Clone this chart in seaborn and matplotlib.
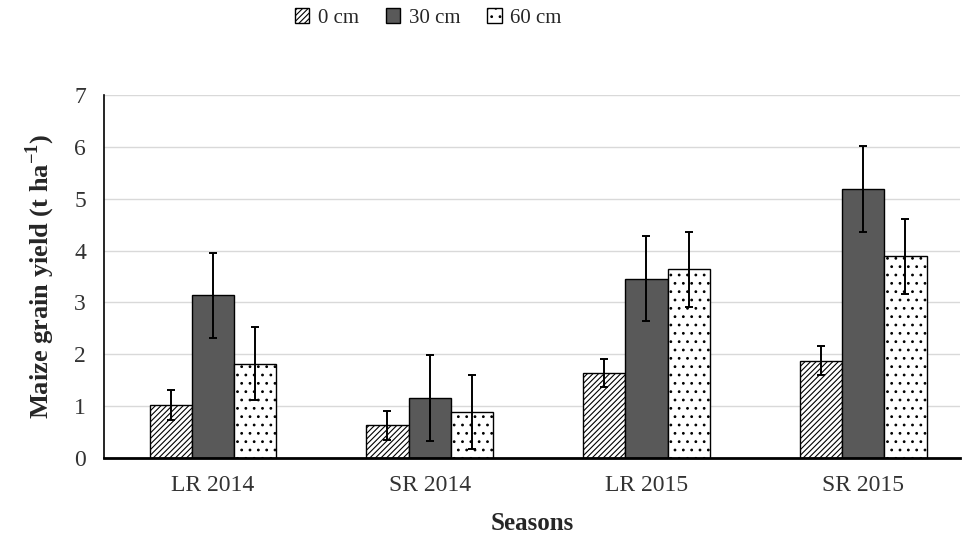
import matplotlib
matplotlib.use("Agg")
import matplotlib.pyplot as plt
import seaborn as sns
import pandas as pd
from matplotlib.patches import Patch

seasons = ["LR 2014", "SR 2014", "LR 2015", "SR 2015"]
depths = ["0 cm", "30 cm", "60 cm"]
yield_0cm = [1.02, 0.63, 1.63, 1.88]
yield_30cm = [3.14, 1.16, 3.46, 5.18]
yield_60cm = [1.82, 0.89, 3.64, 3.89]
err_0cm = [0.29, 0.28, 0.27, 0.28]
err_30cm = [0.82, 0.83, 0.82, 0.83]
err_60cm = [0.71, 0.72, 0.72, 0.72]

values = [yield_0cm, yield_30cm, yield_60cm]
errors = [err_0cm, err_30cm, err_60cm]

df = pd.DataFrame({
    "Season": [s for _ in depths for s in seasons],
    "Depth": [d for d in depths for _ in seasons],
    "Yield": [v for vals in values for v in vals],
})

sns.set_theme(style="white")
plt.rcParams["font.family"] = ["Liberation Serif", "DejaVu Serif"]
plt.rcParams["mathtext.fontset"] = "custom"
plt.rcParams["mathtext.rm"] = "Liberation Serif"
plt.rcParams["mathtext.bf"] = "Liberation Serif:bold"
plt.rcParams["hatch.linewidth"] = 0.8
plt.rcParams["hatch.color"] = "black"

fig = plt.figure(figsize=(9.63, 5.39), dpi=100)
ax = fig.add_axes([104 / 963, 1 - 458 / 539, (960 - 104) / 963, (458 - 95) / 539])

sns.barplot(data=df, x="Season", y="Yield", hue="Depth", order=seasons,
            hue_order=depths, width=0.585, gap=0, errorbar=None,
            ax=ax, legend=False, saturation=1)

faces = ["white", "#595959", "white"]
hatches = ["//////", None, ".."]
for cont, fc, h, errs in zip(ax.containers, faces, hatches, errors):
    xs, ys = [], []
    for bar in cont:
        bar.set_facecolor(fc)
        bar.set_edgecolor("black")
        bar.set_linewidth(1.0)
        if h:
            bar.set_hatch(h)
        xs.append(bar.get_x() + bar.get_width() / 2)
        ys.append(bar.get_height())
    ax.errorbar(xs, ys, yerr=errs, fmt="none", ecolor="black",
                elinewidth=1.4, capsize=3.2, capthick=1.4, zorder=5)

ax.set_xlim(-0.503, 3.447)
ax.set_ylim(0, 7)
ax.set_yticks(range(0, 8))
ax.yaxis.grid(True, color="#d9d9d9", linewidth=1.0)
ax.set_axisbelow(True)
for side in ["top", "right"]:
    ax.spines[side].set_visible(False)
ax.spines["left"].set_color("black")
ax.spines["left"].set_linewidth(1.2)
ax.spines["bottom"].set_color("black")
ax.spines["bottom"].set_linewidth(2.0)
ax.tick_params(axis="both", length=0, labelsize=17, colors="#333333")
ax.tick_params(axis="y", pad=13)
ax.tick_params(axis="x", pad=12)

ax.set_xlabel("Seasons", fontsize=18, fontweight="bold", labelpad=12)
ax.set_ylabel(r"Maize grain yield (t ha$^{\mathbf{-1}}$)", fontsize=19,
              fontweight="bold", labelpad=12)

handles = [Patch(facecolor=fc, edgecolor="black", hatch=h, label=d, linewidth=1.0)
           for fc, h, d in zip(faces, hatches, depths)]
fig.legend(handles=handles, loc="center", bbox_to_anchor=(428 / 963, 1 - 18 / 539),
           ncol=3, frameon=False, fontsize=15, handlelength=0.7, handleheight=0.7,
           handletextpad=0.4, columnspacing=1.3)

fig.savefig("out.png", dpi=100)
